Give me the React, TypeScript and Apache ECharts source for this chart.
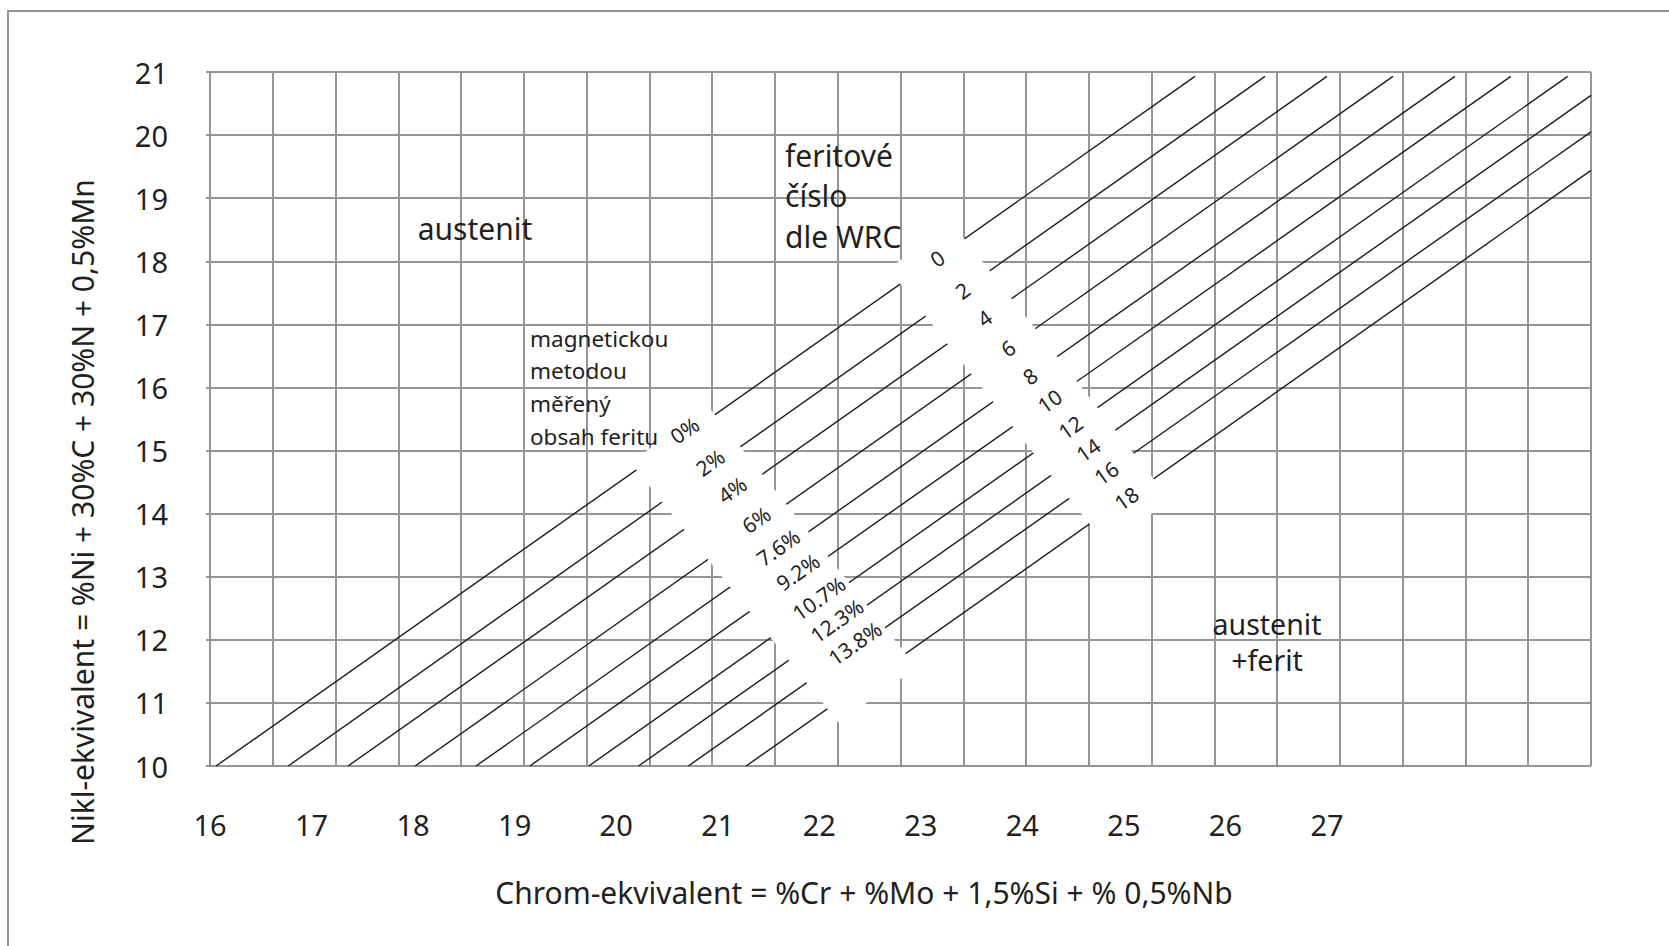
import React, { useEffect, useRef } from "react";
import * as echarts from "echarts";

// ---- axis ticks ----
const crEqTicks = [16, 17, 18, 19, 20, 21, 22, 23, 24, 25, 26, 27];
const niEqTicks = [10, 11, 12, 13, 14, 15, 16, 17, 18, 19, 20, 21];
const gridColumns = 22;

// ---- iso-ferrite lines (Cr-eq at Ni-eq = 10, and end point) ----
const lineStartCrEq = [16.06, 16.77, 17.36, 18.02, 18.62, 19.15, 19.73, 20.22, 20.71, 21.28];
const lineEndCrEq = [25.7, 26.39, 27.0, 27.65, 28.26, 28.81, 29.37, 29.6, 29.6, 29.6];
const lineEndNiEq = [20.93, 20.93, 20.93, 20.93, 20.93, 20.93, 20.93, 20.63, 20.05, 19.44];

// ---- labels of the lines ----
const magneticLabels = ["0%", "2%", "4%", "6%", "7.6%", "9.2%", "10.7%", "12.3%", "13.8%"];
const wrcLabels = ["0", "2", "4", "6", "8", "10", "12", "14", "16", "18"];

// ---- white label bands (Cr-eq, Ni-eq corners: TL, TR, BR, BL) ----
const magneticBand = [
  [20.14, 14.81],
  [20.91, 15.69],
  [22.96, 11.56],
  [22.19, 10.69],
];
const wrcBand = [
  [22.68, 17.88],
  [23.31, 18.6],
  [25.46, 14.21],
  [24.83, 13.49],
];

const FONT = '"Noto Sans", "DejaVu Sans", sans-serif';
const TEXT = "#231f20";
const GRID = "#939598";
const LINE = "#1d1d1b";

function intersect(p0: number[], p1: number[], a: number[], b: number[]) {
  const dx = p1[0] - p0[0];
  const dy = p1[1] - p0[1];
  const ex = b[0] - a[0];
  const ey = b[1] - a[1];
  const den = dx * ey - dy * ex;
  const t = ((a[0] - p0[0]) * ey - (a[1] - p0[1]) * ex) / den;
  return [p0[0] + t * dx, p0[1] + t * dy];
}

export default function App() {
  const ref = useRef<HTMLDivElement>(null);

  useEffect(() => {
    if (!ref.current) return;
    const chart = echarts.init(ref.current, undefined, { renderer: "svg" });

    const lines = lineStartCrEq.map((s, i) => [
      [s, niEqTicks[0]],
      [lineEndCrEq[i], lineEndNiEq[i]],
    ]);
    const bands = [magneticBand, wrcBand];
    const bandTexts = [magneticLabels, wrcLabels];

    const labelItems: number[][] = [];
    bandTexts.forEach((texts, bi) => {
      texts.forEach((_t, li) => {
        const [p0, p1] = lines[li];
        const b = bands[bi];
        const a = intersect(p0, p1, b[0], b[3]);
        const c = intersect(p0, p1, b[1], b[2]);
        labelItems.push([(a[0] + c[0]) / 2, (a[1] + c[1]) / 2, bi, li]);
      });
    });

    const labelOffsets = [
      [9, -12],
      [5, -3],
    ];

    const lineSeries = lines.map((pts) => ({
      type: "line",
      xAxisIndex: 0,
      yAxisIndex: 0,
      data: pts,
      symbol: "none",
      silent: true,
      z: 3,
      lineStyle: { color: LINE, width: 1.4 },
    }));

    const option: any = {
      animation: false,
      grid: { left: 210, top: 72, width: 1381, height: 694 },
      xAxis: [
        {
          type: "value",
          min: crEqTicks[0],
          max: 29.6,
          interval: 1,
          position: "bottom",
          axisLine: { show: false },
          axisTick: { show: false },
          splitLine: { show: false },
          axisLabel: {
            formatter: (v: number) => (crEqTicks.indexOf(v) >= 0 ? String(v) : ""),
            fontSize: 29,
            fontFamily: FONT,
            color: TEXT,
            margin: 44,
          },
        },
        {
          type: "value",
          min: 0,
          max: gridColumns,
          interval: 1,
          position: "bottom",
          axisLine: { show: false },
          axisTick: { show: false },
          axisLabel: { show: false },
          splitLine: {
            show: true,
            showMinLine: true,
            showMaxLine: true,
            lineStyle: { color: GRID, width: 2 },
          },
        },
      ],
      yAxis: {
        type: "value",
        min: niEqTicks[0],
        max: niEqTicks[niEqTicks.length - 1],
        interval: 1,
        axisLine: { show: true, lineStyle: { color: GRID, width: 2 } },
        axisTick: { show: true, length: 4, lineStyle: { color: GRID, width: 2 } },
        axisLabel: { fontSize: 29, fontFamily: FONT, color: TEXT, margin: 42 },
        splitLine: {
          show: true,
          showMinLine: true,
          showMaxLine: true,
          lineStyle: { color: GRID, width: 2 },
        },
      },
      series: [
        ...lineSeries,
        {
          type: "custom",
          xAxisIndex: 0,
          yAxisIndex: 0,
          z: 4,
          silent: true,
          clip: false,
          data: bands.map((b, i) => [b[0][0], b[0][1], i]),
          renderItem: (_params: any, api: any) => {
            const b = bands[api.value(2)];
            return {
              type: "polygon",
              shape: { points: b.map((p) => api.coord(p)) },
              style: { fill: "#ffffff", stroke: null },
            };
          },
        },
        {
          type: "custom",
          xAxisIndex: 0,
          yAxisIndex: 0,
          z: 5,
          silent: true,
          clip: false,
          data: labelItems,
          renderItem: (_params: any, api: any) => {
            const bi = api.value(2);
            const li = api.value(3);
            const pt = api.coord([api.value(0), api.value(1)]);
            const off = labelOffsets[bi];
            return {
              type: "text",
              x: pt[0] + off[0],
              y: pt[1] + off[1],
              rotation: (35 * Math.PI) / 180,
              style: {
                text: bandTexts[bi][li],
                fontSize: 21,
                fontFamily: FONT,
                fill: TEXT,
                align: "center",
                verticalAlign: "middle",
              },
            };
          },
        },
      ],
      graphic: [
        {
          type: "rect",
          z: 100,
          silent: true,
          shape: { x: 8, y: 11, width: 1700, height: 1000 },
          style: { fill: "none", stroke: GRID, lineWidth: 2 },
        },
        {
          type: "text",
          z: 100,
          x: 82,
          y: 512,
          rotation: Math.PI / 2,
          style: {
            text: "Nikl-ekvivalent = %Ni + 30%C + 30%N + 0,5%Mn",
            fontSize: 30,
            fontFamily: FONT,
            fill: TEXT,
            align: "center",
            verticalAlign: "middle",
          },
        },
        {
          type: "text",
          z: 100,
          x: 864,
          y: 892,
          style: {
            text: "Chrom-ekvivalent = %Cr + %Mo + 1,5%Si + % 0,5%Nb",
            fontSize: 30,
            fontFamily: FONT,
            fill: TEXT,
            align: "center",
            verticalAlign: "middle",
          },
        },
        {
          type: "text",
          z: 100,
          x: 475,
          y: 228,
          style: {
            text: "austenit",
            fontSize: 30,
            fontFamily: FONT,
            fill: TEXT,
            align: "center",
            verticalAlign: "middle",
          },
        },
        {
          type: "text",
          z: 100,
          x: 785,
          y: 135,
          style: {
            text: "feritové\nčíslo\ndle WRC",
            fontSize: 30,
            lineHeight: 40.5,
            fontFamily: FONT,
            fill: TEXT,
            align: "left",
            verticalAlign: "top",
          },
        },
        {
          type: "text",
          z: 100,
          x: 530,
          y: 322,
          style: {
            text: "magnetickou\nmetodou\nměřený\nobsah feritu",
            fontSize: 22.5,
            lineHeight: 32.6,
            fontFamily: FONT,
            fill: TEXT,
            align: "left",
            verticalAlign: "top",
          },
        },
        {
          type: "text",
          z: 100,
          x: 1267,
          y: 606,
          style: {
            text: "austenit\n+ferit",
            fontSize: 28.5,
            lineHeight: 36,
            fontFamily: FONT,
            fill: TEXT,
            align: "center",
            verticalAlign: "top",
          },
        },
      ],
    };

    chart.setOption(option);
    return () => chart.dispose();
  }, []);

  return (
    <div
      ref={ref}
      style={{ position: "absolute", left: 0, top: 0, width: 1669, height: 946 }}
    />
  );
}
